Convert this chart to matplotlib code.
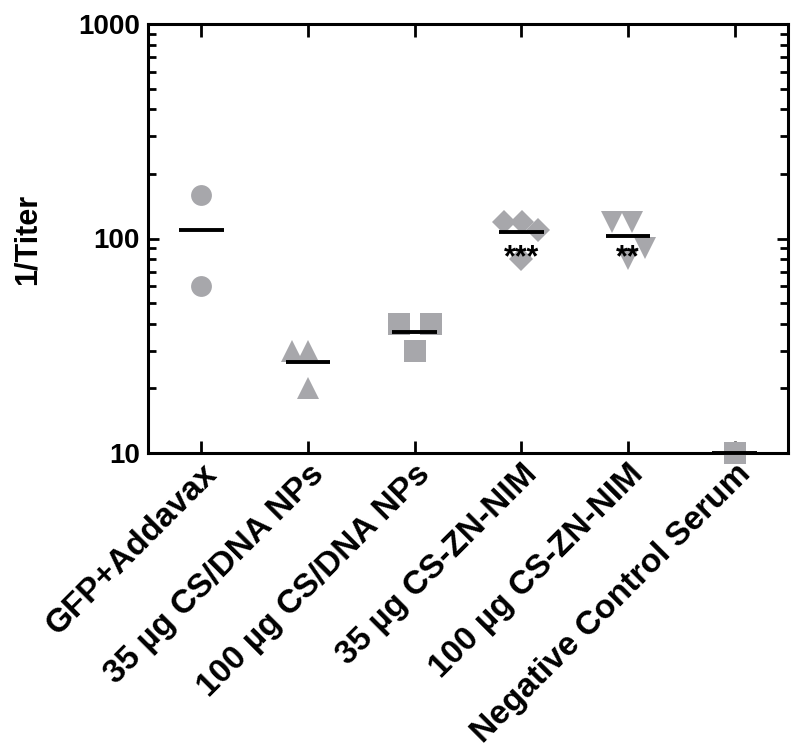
import numpy as np
import matplotlib
matplotlib.use("Agg")
import matplotlib.pyplot as plt
from matplotlib.transforms import ScaledTranslation

plt.rcParams['font.family'] = ['Liberation Sans', 'DejaVu Sans']
plt.rcParams['font.weight'] = 'bold'

# groups and titers
groups = ["GFP+Addavax", "35 µg CS/DNA NPs", "100 µg CS/DNA NPs",
          "35 µg CS-ZN-NIM", "100 µg CS-ZN-NIM", "Negative Control Serum"]
gfp_addavax = [160, 60]
cs_dna_35 = [30, 30, 20]
cs_dna_100 = [40, 40, 30]
cs_zn_nim_35 = [120, 120, 110, 80]
cs_zn_nim_100 = [120, 120, 90, 80]
neg_control = [10]
values = [gfp_addavax, cs_dna_35, cs_dna_100, cs_zn_nim_35, cs_zn_nim_100, neg_control]
stars = {3: "***", 4: "**"}

# layout / style only
markers = ['o', '^', 's', 'D', 'v', 's']
msizes = [15, 15.5, 16, 12.5, 15.5, 16]
spread = [[0, 0], [-0.15, 0, 0], [-0.15, 0.15, 0], [-0.16, 0.01, 0.16, 0],
          [-0.15, 0.04, 0.16, 0], [0]]
grey = '#a7a7ab'

fig = plt.figure(figsize=(8, 7.53), dpi=100)
ax = fig.add_axes([148/800, 1-453/753, 640/800, 429/753])

for i, vals in enumerate(values):
    xs = i + np.array(spread[i])
    ax.plot(xs, vals, linestyle='none', marker=markers[i], markersize=msizes[i],
            color=grey, markeredgewidth=0, clip_on=False, zorder=3)
    m = np.mean(vals)
    ax.hlines(m, i-0.21, i+0.21, color='black', lw=2.8, zorder=4, clip_on=False)

for i, s in stars.items():
    ax.text(i, 74, s, ha='center', va='baseline', fontsize=22, fontweight='bold', zorder=5)

ax.set_yscale('log')
ax.set_ylim(10, 1000)
ax.set_xlim(-0.5, 5.5)
ax.set_yticks([10, 100, 1000])
ax.set_yticklabels(['10', '100', '1000'])
ax.set_xticks(range(len(groups)))
ax.set_xticklabels(groups, rotation=45, ha='right', va='top', rotation_mode='anchor',
                   fontsize=24, fontweight='bold')
shift = ScaledTranslation(6/100, 0, fig.dpi_scale_trans)
for lab in ax.get_xticklabels():
    lab.set_transform(lab.get_transform() + shift)

for sp in ax.spines.values():
    sp.set_linewidth(2.2)
ax.tick_params(axis='x', direction='in', top=True, bottom=True, length=9, width=2, pad=4)
ax.tick_params(axis='y', which='major', direction='in', left=True, right=True,
               length=8, width=2, labelsize=20, pad=6)
ax.tick_params(axis='y', which='minor', direction='in', left=True, right=True,
               length=5.5, width=2)
for lab in ax.get_yticklabels():
    lab.set_fontweight('bold')

fig.text(27.5/800, 1-239/753, '1/Titer', rotation=90, ha='center', va='center',
         fontsize=22, fontweight='bold')

fig.savefig('out.png', dpi=100)
